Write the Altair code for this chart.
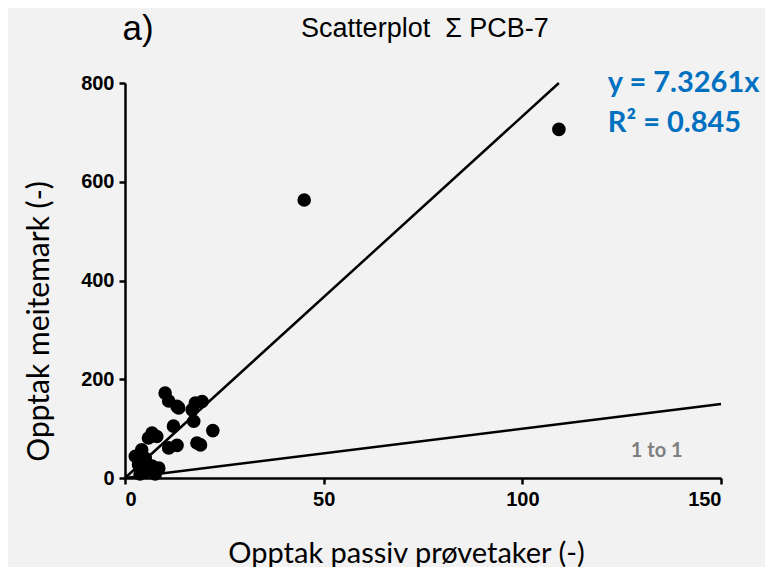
import altair as alt
import pandas as pd

# scatter points
xs = [10.1, 11.0, 13.1, 13.5, 17.7, 19.4, 16.9, 17.3, 12.2, 22.1, 18.1, 19.0, 13.1, 11.0,
      6.8, 8.0, 5.9, 4.2, 2.6, 5.1, 3.4, 6.8, 8.5, 5.1, 7.6, 3.8, 45.1, 109.2]
ys = [172, 156, 145, 142, 152, 155, 138, 115, 105, 96, 71, 67, 66, 61,
      91, 84, 81, 57, 44, 40, 27, 24, 20, 13, 8, 8, 563, 706]

slope = 7.3261
reg_x = [0, 800 / slope]
reg_y = [0, 800]
one_x = [0, 150]
one_y = [0, 150]

pts = pd.DataFrame({"x": xs, "y": ys})
reg = pd.DataFrame({"x": reg_x, "y": reg_y})
one = pd.DataFrame({"x": one_x, "y": one_y})

xscale = alt.Scale(domain=[0, 150], nice=False)
yscale = alt.Scale(domain=[0, 800], nice=False)

xaxis = alt.Axis(values=[0, 50, 100, 150], title="Opptak passiv prøvetaker (-)",
                 titlePadding=30, titleX=281, titleFontSize=29)
yaxis = alt.Axis(values=[0, 200, 400, 600, 800], title="Opptak meitemark (-)",
                 titlePadding=26, titleY=238, titleFontSize=30)

points = alt.Chart(pts).mark_circle(size=185, color="black", opacity=1).encode(
    x=alt.X("x:Q", scale=xscale, axis=xaxis),
    y=alt.Y("y:Q", scale=yscale, axis=yaxis),
)

regline = alt.Chart(reg).mark_line(color="black", strokeWidth=2.5).encode(
    x=alt.X("x:Q", scale=xscale), y=alt.Y("y:Q", scale=yscale))
oneline = alt.Chart(one).mark_line(color="black", strokeWidth=2.5).encode(
    x=alt.X("x:Q", scale=xscale), y=alt.Y("y:Q", scale=yscale))

eq = pd.DataFrame({
    "x": [121.5, 121.5, 127.3],
    "y": [800, 720, 55],
    "t": ["y = 7.3261x", "R² = 0.845", "1 to 1"],
    "c": ["#0070C0", "#0070C0", "#7F7F7F"],
    "s": [29, 29, 20],
})
lab = pd.DataFrame({"x": [-0.6], "y": [910], "t": ["a)"]})
ttl = pd.DataFrame({"x": [75.5], "y": [910], "t": ["Scatterplot\u00a0\u00a0Σ\u00a0PCB-7"]})

texts_eq = alt.Chart(eq).mark_text(align="left", baseline="middle", font="Lato", fontWeight="bold").encode(
    x=alt.X("x:Q", scale=xscale), y=alt.Y("y:Q", scale=yscale),
    text="t:N",
    color=alt.Color("c:N", scale=None),
    size=alt.Size("s:Q", scale=None),
)
text_a = alt.Chart(lab).mark_text(align="left", baseline="middle", font="Liberation Sans",
                                  fontSize=35, color="black").encode(
    x=alt.X("x:Q", scale=xscale), y=alt.Y("y:Q", scale=yscale),
    text="t:N",
)
text_t = alt.Chart(ttl).mark_text(align="center", baseline="middle", font="Liberation Sans",
                                  fontSize=27, color="black").encode(
    x=alt.X("x:Q", scale=xscale), y=alt.Y("y:Q", scale=yscale),
    text="t:N",
)

chart = alt.layer(oneline, regline, points, texts_eq, text_a, text_t).properties(
    width=596, height=395,
    padding={"left": 117, "top": 75, "right": 44, "bottom": 89},
    autosize=alt.AutoSizeParams(type="none"),
    background="#F2F2F2",
).configure_view(stroke=None).configure_axis(
    grid=False, domainColor="black", domainWidth=2.5, tickColor="black", tickWidth=2.5,
    tickSize=6, labelFont="Liberation Sans", labelFontWeight="bold", labelFontSize=20,
    labelColor="black", labelPadding=5, titleFont="Lato",
    titleFontWeight="normal", titleColor="black",
)

chart.save("out.html", embed_options={"renderer": "svg", "actions": False})
